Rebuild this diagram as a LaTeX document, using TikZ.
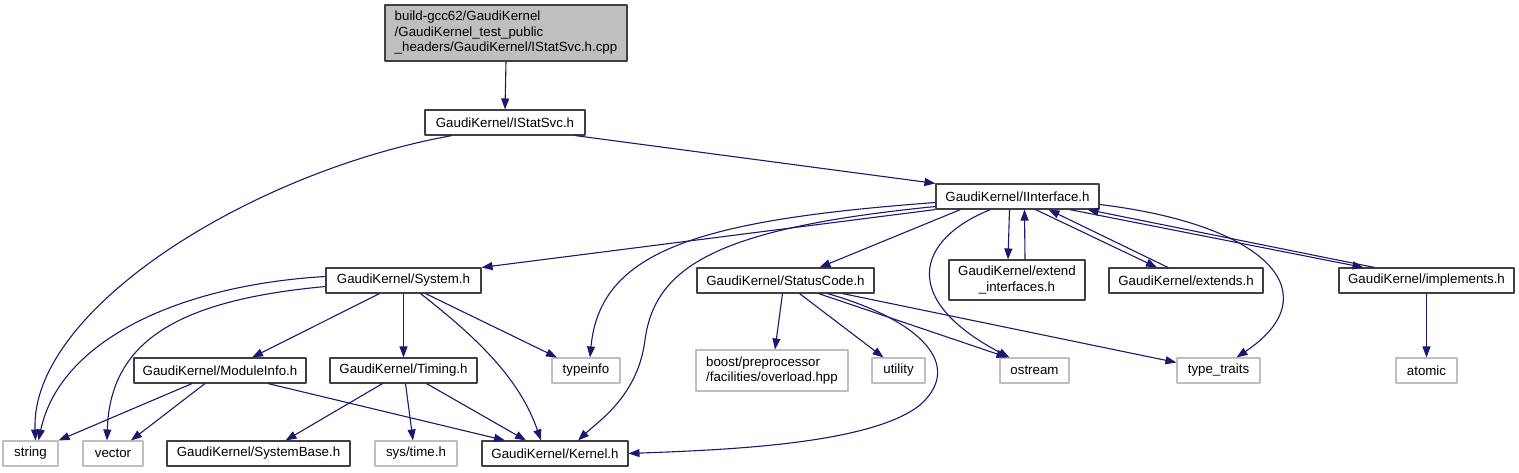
\documentclass[tikz,border=0pt]{standalone}
\usepackage{fontspec}
\setmainfont{Liberation Sans}
\usetikzlibrary{arrows.meta}
\definecolor{dxblue}{HTML}{191970}
\definecolor{dxgray}{HTML}{BFBFBF}
\definecolor{dxline}{HTML}{404040}
\begin{document}
\begin{tikzpicture}[x=1pt, y=-1pt, >={Triangle[length=11pt,width=8pt]}, font=\fontsize{13.3}{15.5}\selectfont, line join=round,
	box/.style={draw=dxline, fill=white, line width=1.1pt, inner sep=0pt, minimum height=25},
	sysbox/.style={box, draw=dxgray},
	dep/.style={->, draw=dxblue, line width=1.1pt}]
	\useasboundingbox (0,0) rectangle (1519,472);
	% top of the graph
	\node[box, fill=dxgray, minimum width=242, minimum height=56, align=left] (root) at (506,33) {build-gcc62/GaudiKernel\\/GaudiKernel\_test\_public\\\_headers/GaudiKernel/IStatSvc.h.cpp};
	\node[box, minimum width=160] (istatsvc) at (505,122.5) {GaudiKernel/IStatSvc.h};
	\node[box, minimum width=163] (iinterface) at (1017.5,196.5) {GaudiKernel/IInterface.h};
	% second row
	\node[box, minimum width=155] (system) at (403.5,280.5) {GaudiKernel/System.h};
	\node[box, minimum width=177] (statuscode) at (785.5,280.5) {GaudiKernel/StatusCode.h};
	\node[box, minimum width=136, minimum height=40, align=center] (extendif) at (1017,280) {GaudiKernel/extend\\\_interfaces.h};
	\node[box, minimum width=154] (extends) at (1186,280.5) {GaudiKernel/extends.h};
	\node[box, minimum width=175] (implements) at (1426.5,280.5) {GaudiKernel/implements.h};
	% third row
	\node[box, minimum width=172] (moduleinfo) at (220,370.5) {GaudiKernel/ModuleInfo.h};
	\node[box, minimum width=147] (timing) at (403.5,370.5) {GaudiKernel/Timing.h};
	\node[sysbox, minimum width=68] (typeinfo) at (586,370.5) {typeinfo};
	\node[sysbox, minimum width=152, minimum height=41, align=left] (boostpp) at (772,370.5) {boost/preprocessor\\/facilities/overload.hpp};
	\node[sysbox, minimum width=53] (utility) at (898.5,370.5) {utility};
	\node[sysbox, minimum width=69] (ostream) at (1034.5,370.5) {ostream};
	\node[sysbox, minimum width=83] (typetraits) at (1218.5,370.5) {type\_traits};
	\node[sysbox, minimum width=61] (atomic) at (1426.5,370.5) {atomic};
	% bottom row
	\node[sysbox, minimum width=55] (string) at (30.5,453.5) {string};
	\node[sysbox, minimum width=60] (vector) at (113,453.5) {vector};
	\node[box, minimum width=183] (systembase) at (258.5,453.5) {GaudiKernel/SystemBase.h};
	\node[sysbox, minimum width=82] (systime) at (416,453.5) {sys/time.h};
	\node[box, minimum width=146] (kernel) at (555,453.5) {GaudiKernel/Kernel.h};
	% dependencies
	\draw[dep] (root.south) -- (istatsvc.north);
	\draw[dep] ([xshift=-53]istatsvc.south) .. controls (250,172) and (30,310) .. ([xshift=5]string.north);
	\draw[dep] ([xshift=70]istatsvc.south) -- (iinterface.north west);
	\draw[dep] (iinterface.south west) -- (system.north east);
	\draw[dep] ([yshift=-6]iinterface.west) .. controls (700,220) and (600,250) .. ([xshift=4]typeinfo.north);
	\draw[dep] ([yshift=-10]iinterface.west) .. controls (720,228) and (655,265) .. (645,340) .. controls (638,395) and (600,420) .. ([xshift=23]kernel.north);
	\draw[dep] ([xshift=-57]iinterface.south) -- ([xshift=34]statuscode.north);
	\draw[dep] ([xshift=-27]iinterface.south) .. controls (915,240) and (900,300) .. ([xshift=-25]ostream.north);
	\draw[dep] ([xshift=-8]iinterface.south) -- ([xshift=-9]extendif.north);
	\draw[dep] ([xshift=8]extendif.north) -- ([xshift=7]iinterface.south);
	\draw[dep] ([xshift=18]iinterface.south) -- ([xshift=-29]extends.north);
	\draw[dep] ([xshift=-18]extends.north) -- ([xshift=31]iinterface.south);
	\draw[dep] ([xshift=52]iinterface.south) -- ([xshift=-63]implements.north);
	\draw[dep] ([xshift=-52]implements.north) -- ([xshift=70]iinterface.south);
	\draw[dep] ([yshift=-8]iinterface.east) .. controls (1270,225) and (1330,295) .. ([xshift=18]typetraits.north);
	\draw[dep] ([yshift=4]system.west) .. controls (180,285) and (60,340) .. ([xshift=8]string.north);
	\draw[dep] ([yshift=-6]system.west) .. controls (180,300) and (110,340) .. ([xshift=-6]vector.north);
	\draw[dep] ([xshift=-24]system.south) -- ([xshift=32]moduleinfo.north);
	\draw[dep] (system.south) -- (timing.north);
	\draw[dep] ([xshift=22]system.south) -- ([xshift=-29]typeinfo.north);
	\draw[dep] ([xshift=17]system.south) .. controls (480,340) and (520,380) .. ([xshift=-14]kernel.north);
	\draw[dep] ([xshift=-28]moduleinfo.south) -- (string.north east);
	\draw[dep] ([xshift=-15]moduleinfo.south) -- ([xshift=18]vector.north);
	\draw[dep] ([xshift=48]moduleinfo.south) -- ([xshift=-50]kernel.north);
	\draw[dep] ([xshift=-21]timing.south) -- ([xshift=27]systembase.north);
	\draw[dep] ([xshift=2]timing.south) -- ([xshift=-3]systime.north);
	\draw[dep] ([xshift=23]timing.south) -- ([xshift=-29]kernel.north);
	\draw[dep] ([xshift=-3]statuscode.south) -- ([xshift=3]boostpp.north);
	\draw[dep] ([xshift=14]statuscode.south) -- ([xshift=-15]utility.north);
	\draw[dep] ([xshift=33]statuscode.south) -- ([xshift=-27]ostream.north);
	\draw[dep] ([xshift=42]statuscode.south) .. controls (920,320) and (965,365) .. (920,405) .. controls (870,445) and (720,450) .. (kernel.east);
	\draw[dep] ([xshift=57]statuscode.south) -- ([yshift=8]typetraits.west);
	\draw[dep] (implements.south) -- (atomic.north);
\end{tikzpicture}
\end{document}
